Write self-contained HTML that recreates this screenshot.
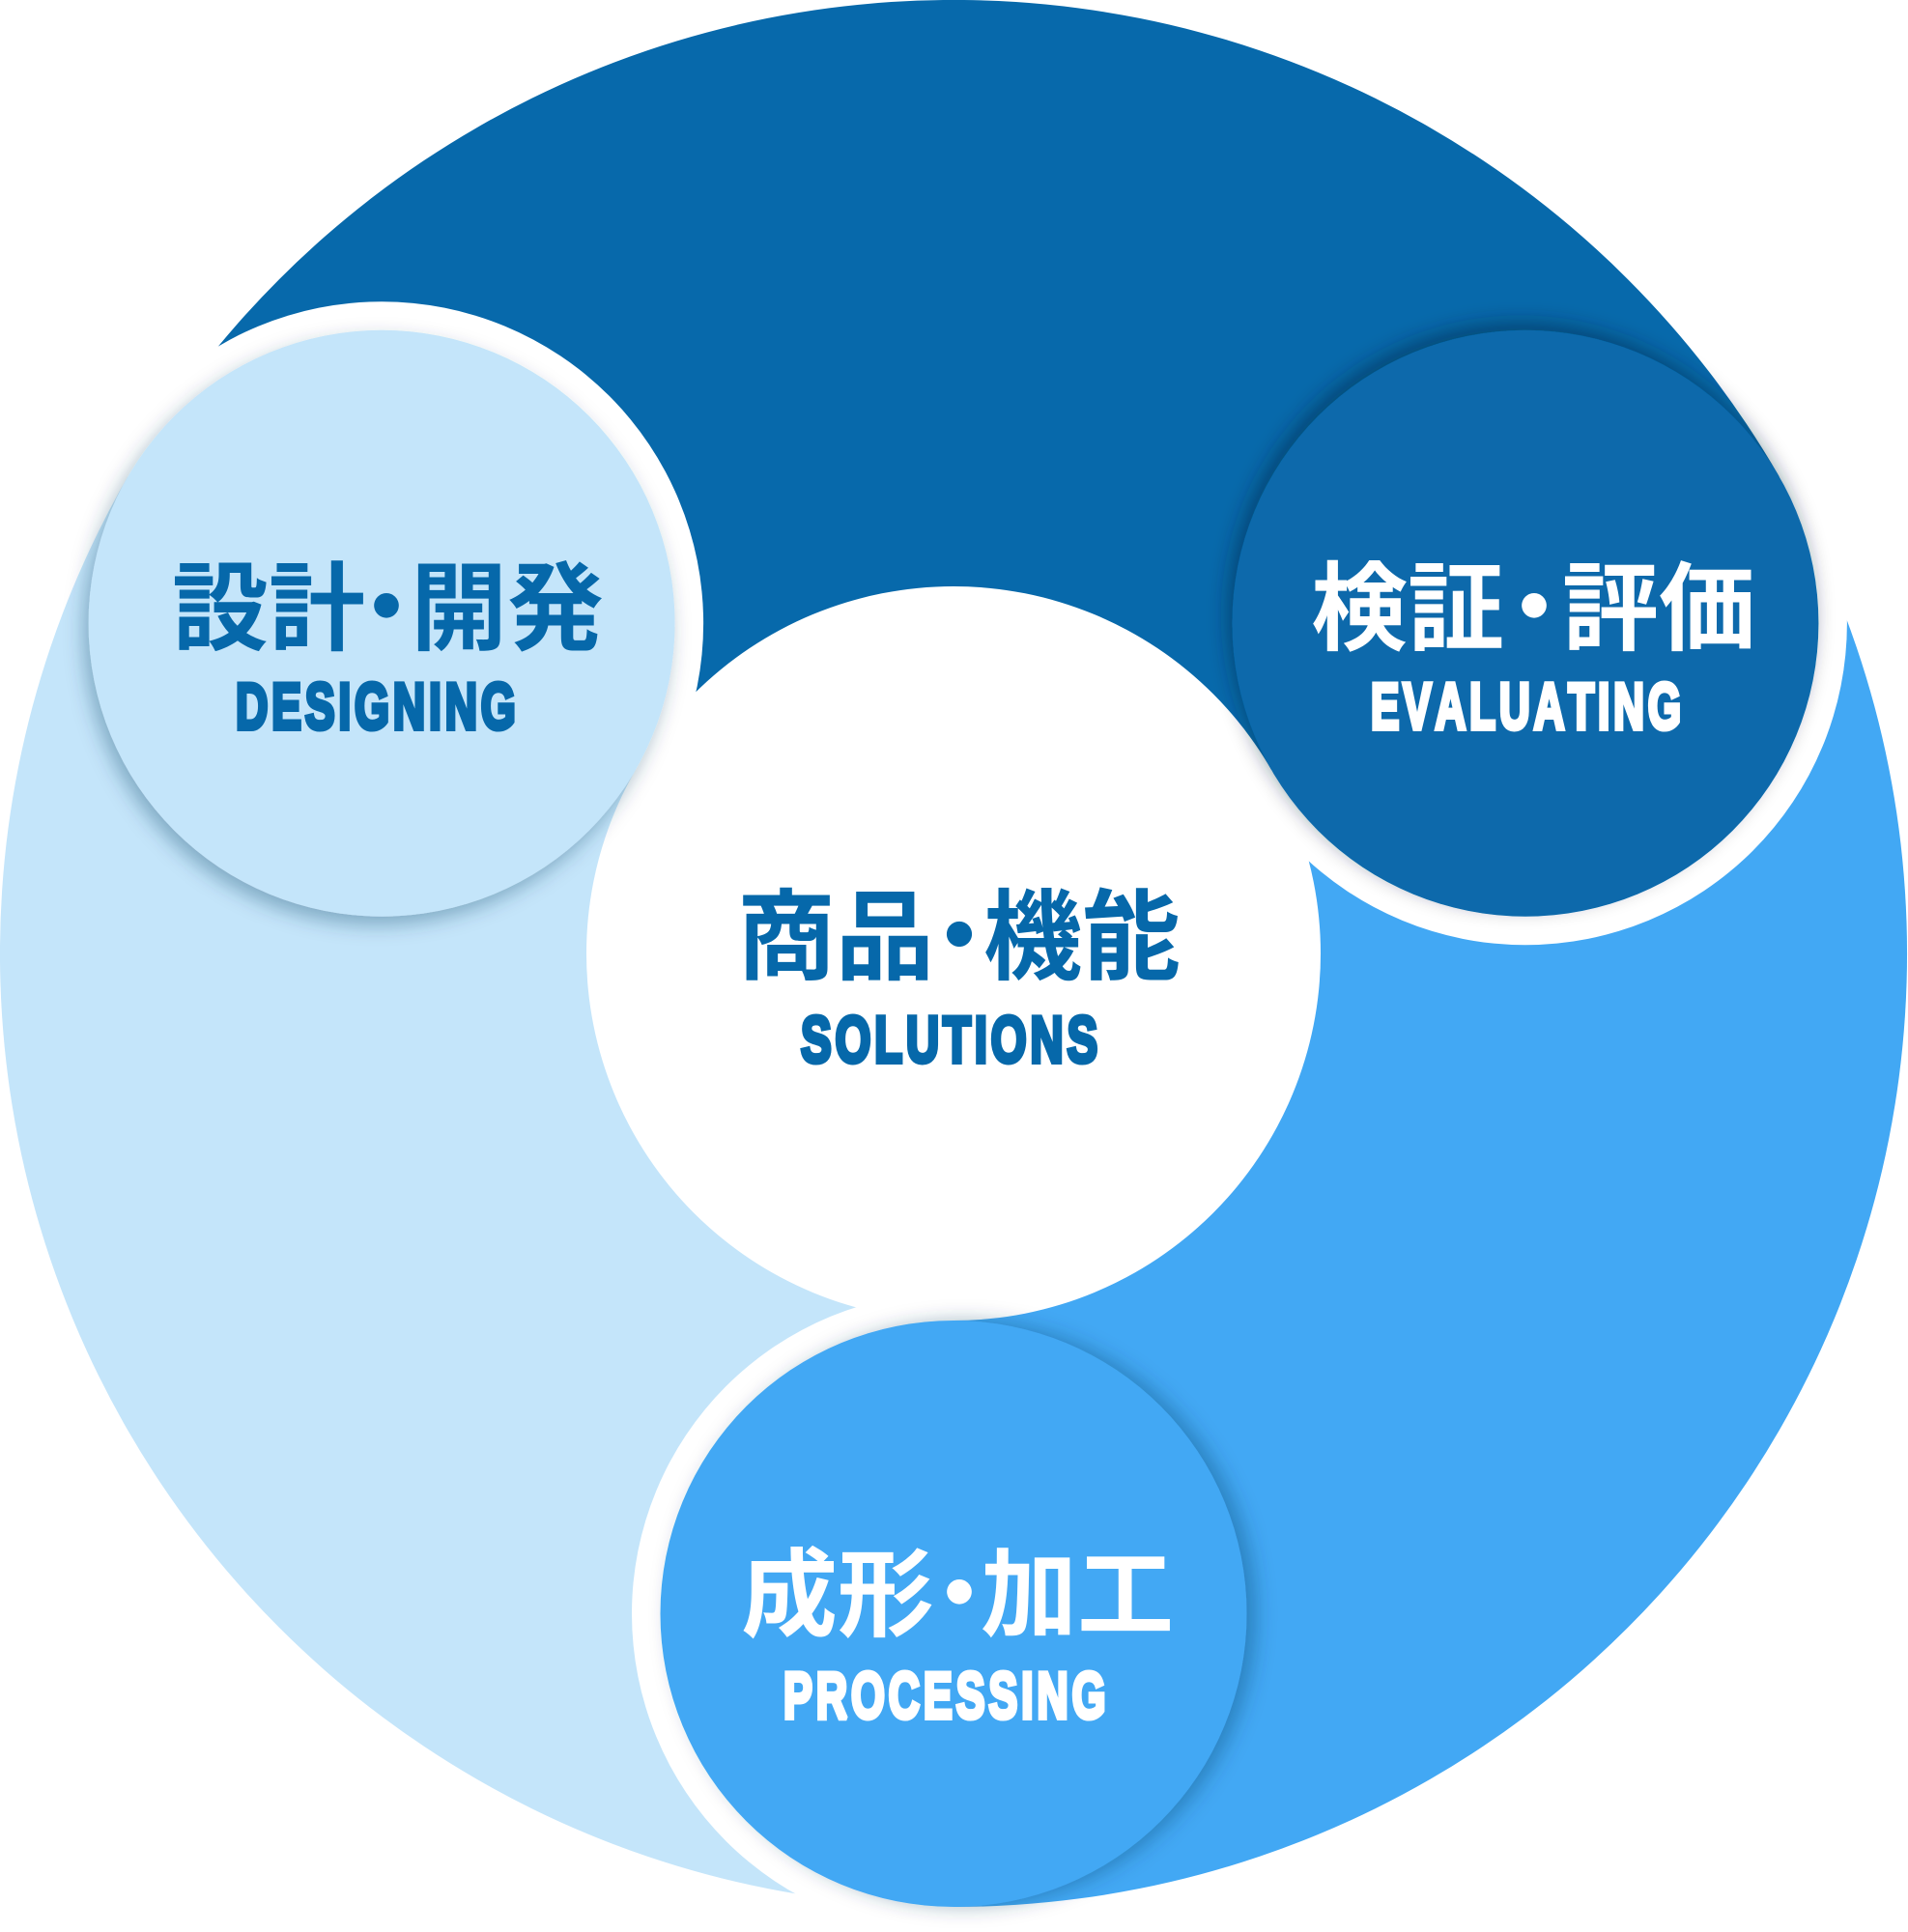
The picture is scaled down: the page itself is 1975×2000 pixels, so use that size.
<!DOCTYPE html>
<html>
<head>
<meta charset="utf-8">
<style>
  html, body { margin: 0; padding: 0; background: #ffffff; }
  body { width: 1975px; height: 2000px; overflow: hidden; }
  svg { display: block; }
  .jp { font-family: "Liberation Sans", "Noto Sans CJK JP", sans-serif; font-weight: 700; }
  .en { font-family: "Liberation Sans", sans-serif; font-weight: 700; font-size: 68px;
        stroke-width: 5; stroke-linejoin: miter; stroke-miterlimit: 2; font-kerning: none; }
</style>
</head>
<body>
<svg width="1975" height="2000" viewBox="0 0 1975 2000" xmlns="http://www.w3.org/2000/svg">
  <defs>
    <clipPath id="cDark">
      <polygon points="987,987 3152,-263 987,-1513 -1178,-263"/>
    </clipPath>
    <clipPath id="cLight">
      <polygon points="987,987 -1178,-263 -1178,2237 987,3487"/>
    </clipPath>
    <clipPath id="cMed">
      <polygon points="987,987 987,3487 3152,2237 3152,-263"/>
    </clipPath>
    <filter id="shD" x="-30%" y="-30%" width="160%" height="160%">
      <feDropShadow dx="-5" dy="8.7" stdDeviation="10" flood-color="#0b3a5e" flood-opacity="0.35"/>
    </filter>
    <filter id="shE" x="-30%" y="-30%" width="160%" height="160%">
      <feDropShadow dx="-5" dy="-8.7" stdDeviation="10" flood-color="#02233d" flood-opacity="0.45"/>
    </filter>
    <filter id="shP" x="-30%" y="-30%" width="160%" height="160%">
      <feDropShadow dx="10" dy="0" stdDeviation="10" flood-color="#0b3a5e" flood-opacity="0.35"/>
    </filter>
  </defs>

  <rect x="0" y="0" width="1975" height="2000" fill="#ffffff"/>

  <!-- big circle sectors -->
  <path d="M987 987 L1841.8 493.5 A987 987 0 0 0 132.2 493.5 Z" fill="#0769AB"/>
  <path d="M987 987 L132.2 493.5 A987 987 0 0 0 987 1974 Z" fill="#C4E5FA"/>
  <path d="M987 987 L987 1974 A987 987 0 0 0 1841.8 493.5 Z" fill="#42A8F4"/>

  <!-- white rings (only on preceding sector side) -->
  <circle cx="395.1" cy="645.25" r="333" fill="#ffffff" clip-path="url(#cDark)"/>
  <circle cx="1578.9" cy="645.25" r="333" fill="#ffffff" clip-path="url(#cMed)"/>
  <circle cx="987" cy="1670.5" r="333" fill="#ffffff" clip-path="url(#cLight)"/>

  <!-- center white circle -->
  <circle cx="987" cy="987" r="380" fill="#ffffff"/>

  <!-- head circles -->
  <circle cx="395.1" cy="645.25" r="303.5" fill="#C4E5FA" filter="url(#shD)"/>
  <circle cx="1578.9" cy="645.25" r="303.5" fill="#0769AB" filter="url(#shE)"/>
  <circle cx="987" cy="1670.5" r="303.5" fill="#42A8F4" filter="url(#shP)"/>

  <!-- Designing -->
  <g fill="#0668AA">
    <text class="jp" x="178" y="665" font-size="100">設計</text>
    <text class="jp" x="400" y="665" font-size="100" text-anchor="middle">・</text>
    <text class="jp" x="425" y="665" font-size="100">開発</text>
    <text class="en" stroke="#0668AA" x="0" y="0" letter-spacing="5.5" transform="translate(244 754.5) scale(0.681 1)">DESIGNING</text>
  </g>

  <!-- Evaluating -->
  <g fill="#ffffff">
    <text class="jp" x="1357" y="665" font-size="100">検証</text>
    <text class="jp" x="1588" y="665" font-size="100" text-anchor="middle">・</text>
    <text class="jp" x="1617" y="665" font-size="100">評価</text>
    <text class="en" stroke="#ffffff" x="0" y="0" letter-spacing="5.9" transform="translate(1419 754.5) scale(0.6486 1)">EVALUATING</text>
  </g>

  <!-- Center -->
  <g fill="#0668AA">
    <text class="jp" x="763" y="1006" font-size="102">商品</text>
    <text class="jp" x="993" y="1006" font-size="102" text-anchor="middle">・</text>
    <text class="jp" x="1018" y="1006" font-size="102">機能</text>
    <text class="en" stroke="#0668AA" x="0" y="0" letter-spacing="5.35" transform="translate(829 1099.5) scale(0.699 1)">SOLUTIONS</text>
  </g>

  <!-- Processing -->
  <g fill="#ffffff">
    <text class="jp" x="767" y="1686" font-size="100">成形</text>
    <text class="jp" x="993" y="1686" font-size="100" text-anchor="middle">・</text>
    <text class="jp" x="1015" y="1686" font-size="100">加工</text>
    <text class="en" stroke="#ffffff" x="0" y="0" letter-spacing="5.8" transform="translate(811 1778.5) scale(0.6597 1)">PROCESSING</text>
  </g>
</svg>
</body>
</html>
